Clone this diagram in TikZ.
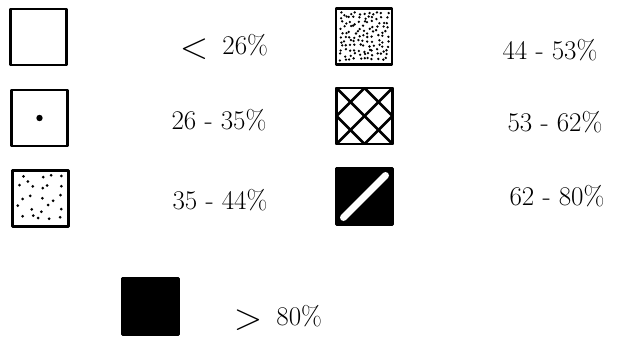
\documentclass[tikz,border=0pt]{standalone}
\usepackage{graphicx}
\usepackage{tikz}
\begin{document}
\begin{tikzpicture}[x=1pt,y=-1pt,
  keybox/.style={draw=black,line width=2.8pt,minimum width=56pt,minimum height=56pt,inner sep=0pt,outer sep=0pt,line join=round},
  lbl/.style={font=\fontsize{27}{30}\selectfont,inner sep=0pt,anchor=center},
  dot/.style={fill=black}]
\useasboundingbox (0,0) rectangle (623,337);
% left column
\node[keybox] (b1) at (38.5,37) {};
\node[keybox] (b2) at (39.5,118) {};
\node[keybox] (b3) at (40.5,198.5) {};
\fill (b2.center) circle (3.2);
\pgfmathsetseed{17}
\foreach \i in {0,...,4}{
  \foreach \j in {0,...,4}{
    \pgfmathsetmacro{\dx}{-20+\i*10+rand*3.5}
    \pgfmathsetmacro{\dy}{-20+\j*10+rand*3.5}
    \fill ([shift={(\dx,\dy)}]b3.center) circle (1.5);
  }
}
% right column
\node[keybox] (b4) at (364,36.5) {};
\node[keybox] (b5) at (364.5,116) {};
\node[keybox,fill=black] (b6) at (364.5,196.5) {};
\pgfmathsetseed{42}
\foreach \i in {0,...,10}{
  \foreach \j in {0,...,10}{
    \pgfmathsetmacro{\dx}{-23+\i*4.6+rand*1.8}
    \pgfmathsetmacro{\dy}{-23+\j*4.6+rand*1.8}
    \fill ([shift={(\dx,\dy)}]b4.center) circle (1.3);
  }
}
\begin{scope}
  \clip (b5.south west) rectangle (b5.north east);
  \foreach \c in {-28,0,28}{
    \draw[line width=2.6pt] ([shift={(\c-60,-60)}]b5.center) -- ([shift={(\c+60,60)}]b5.center);
    \draw[line width=2.6pt] ([shift={(\c-60,60)}]b5.center) -- ([shift={(\c+60,-60)}]b5.center);
  }
\end{scope}
\node[keybox] at (b5.center) {};
\draw[white,line width=7pt,line cap=round] ([shift={(-21,21)}]b6.center) -- ([shift={(21,-21)}]b6.center);
% bottom
\node[keybox,fill=black] (b7) at (150.5,306.5) {};
% labels
\node[lbl] (l1) at (224,47) {\raisebox{-4pt}{\scalebox{1.5}{$<$}}\hspace{14pt}26\%};
\node[lbl] (l2) at (219,120) {26 - 35\%};
\node[lbl] (l3) at (220,200) {35 - 44\%};
\node[lbl] (l4) at (550,50) {44 - 53\%};
\node[lbl] (l5) at (555,122) {53 - 62\%};
\node[lbl] (l6) at (557,196) {62 - 80\%};
\node[lbl] (l7) at (278,318) {\raisebox{-4pt}{\scalebox{1.5}{$>$}}\hspace{14pt}80\%};
\end{tikzpicture}
\end{document}
